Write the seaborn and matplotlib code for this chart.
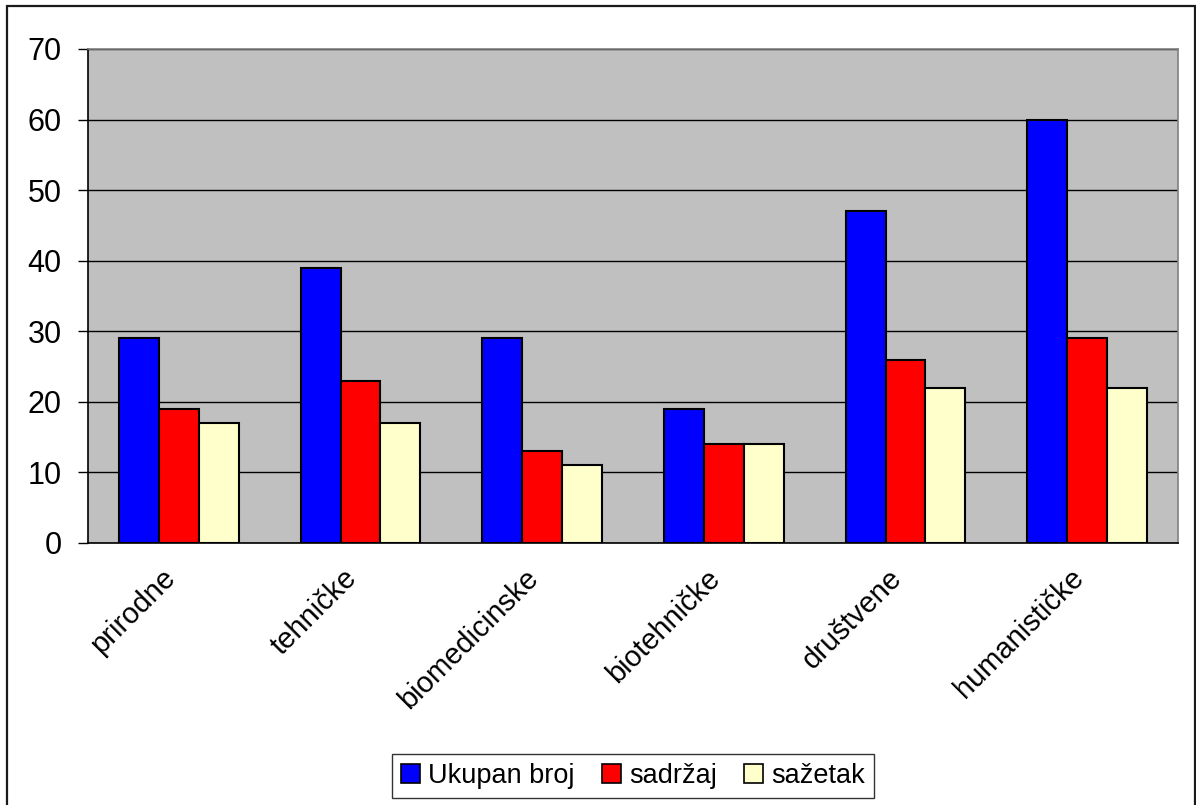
import matplotlib
matplotlib.use("Agg")
import matplotlib.pyplot as plt
import matplotlib.patches as mpatches
import matplotlib.transforms as mtransforms
import seaborn as sns
import pandas as pd

# Counts per scientific field
categories = ["prirodne", "tehničke", "biomedicinske", "biotehničke", "društvene", "humanističke"]
series_names = ["Ukupan broj", "sadržaj", "sažetak"]
ukupan_broj = [29, 39, 29, 19, 47, 60]
sadrzaj = [19, 23, 13, 14, 26, 29]
sazetak = [17, 17, 11, 14, 22, 22]
y_ticks = [0, 10, 20, 30, 40, 50, 60, 70]

colors = ["#0000FF", "#FF0000", "#FFFFCC"]

df = pd.DataFrame({
    "kategorija": categories * 3,
    "serija": [series_names[0]] * 6 + [series_names[1]] * 6 + [series_names[2]] * 6,
    "vrijednost": ukupan_broj + sadrzaj + sazetak,
})

sns.set_theme(style="white")
plt.rcParams["font.family"] = ["Liberation Sans", "DejaVu Sans"]
plt.rcParams["text.color"] = "black"
plt.rcParams["xtick.color"] = "black"
plt.rcParams["ytick.color"] = "black"

fig = plt.figure(figsize=(11.96, 8.05), dpi=100)
ax = fig.add_axes([88 / 1196, 1 - 543 / 805, (1178 - 88) / 1196, (543 - 49) / 805])
ax.set_facecolor("#C0C0C0")

sns.barplot(data=df, x="kategorija", y="vrijednost", hue="serija",
            hue_order=series_names, order=categories, palette=colors,
            width=0.66, gap=0, saturation=1, edgecolor="black", linewidth=1.5,
            ax=ax, zorder=3)

ax.set_ylim(0, 70)
ax.set_xlim(-0.5, len(categories) - 0.5)
ax.set_yticks(y_ticks)
ax.set_yticklabels([str(v) for v in y_ticks], fontsize=22, color="black")
ax.yaxis.grid(True, color="black", linewidth=1, zorder=1)
ax.set_axisbelow(True)
ax.set_xlabel("")
ax.set_ylabel("")

# category tick marks sit between groups
ax.set_xticks(range(len(categories)))
ax.set_xticks([i - 0.5 for i in range(len(categories) + 1)], minor=True)
ax.tick_params(axis="x", which="major", length=0, pad=15)
ax.tick_params(axis="x", which="minor", length=7, width=1, color="black", direction="out")
ax.tick_params(axis="y", length=7, width=1, color="black", direction="out", pad=12, left=True)
ax.set_xticklabels(categories, fontsize=21, color="black", rotation=45, ha="right",
                   rotation_mode="anchor")
offset = mtransforms.ScaledTranslation(-13 / 72, 0, fig.dpi_scale_trans)
for lbl in ax.get_xticklabels():
    lbl.set_transform(lbl.get_transform() + offset)

for side in ["left", "bottom"]:
    ax.spines[side].set_color("black")
    ax.spines[side].set_linewidth(1.2)
for side in ["top", "right"]:
    ax.spines[side].set_color("#808080")
    ax.spines[side].set_linewidth(1.2)
    ax.spines[side].set_visible(True)

ax.get_legend().remove()
handles = [mpatches.Patch(facecolor=c, edgecolor="black", linewidth=1.2) for c in colors]
leg = fig.legend(handles, series_names, loc="center", bbox_to_anchor=(633 / 1196, 1 - 776 / 805),
                 ncol=3, frameon=True, fancybox=False, edgecolor="black", fontsize=19.5,
                 handlelength=0.7, handleheight=0.7, handletextpad=0.3, columnspacing=1.0,
                 borderpad=0.35)
leg.get_frame().set_linewidth(1.0)
for t in leg.get_texts():
    t.set_color("black")

# outer chart border
fig.add_artist(mpatches.Rectangle((7 / 1196, -0.02), (1195 - 7) / 1196, 1.02 - 6 / 805,
                                  transform=fig.transFigure, fill=False,
                                  edgecolor="#1a1a1a", linewidth=1.6))

fig.savefig("out.png", dpi=100)
